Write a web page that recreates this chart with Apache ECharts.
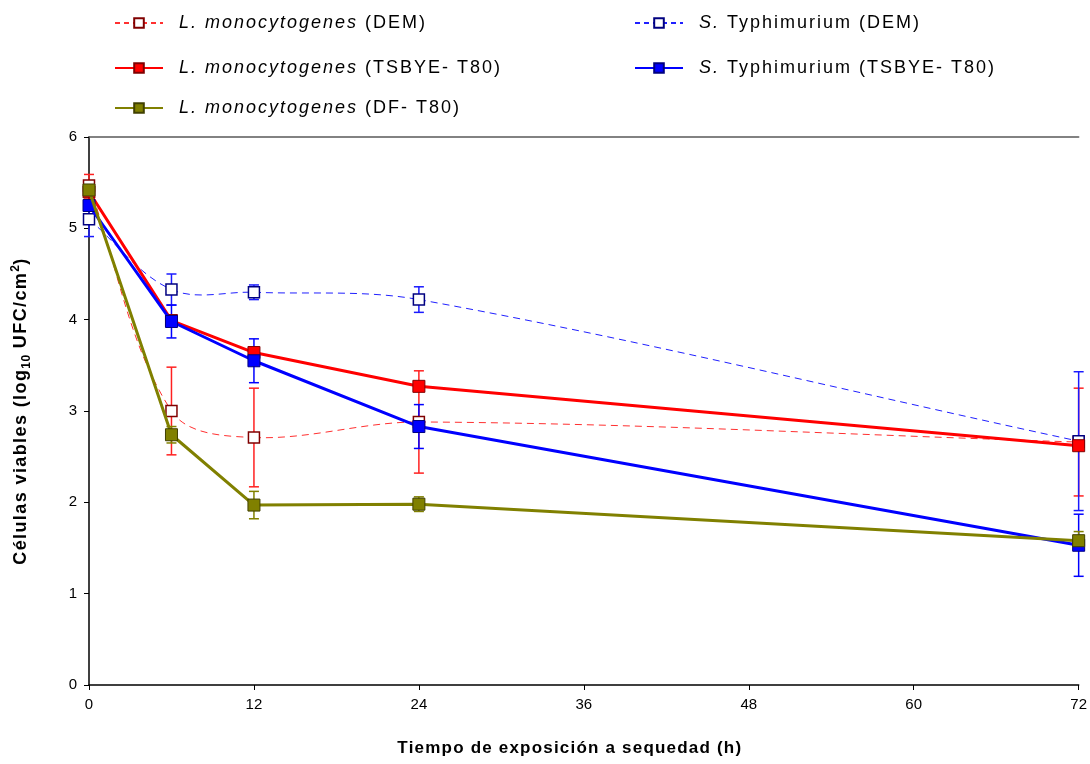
<!DOCTYPE html>
<html>
<head>
<meta charset="utf-8">
<script src="https://cdn.jsdelivr.net/npm/echarts@6/dist/echarts.min.js"></script>
<style>
  html, body { margin: 0; padding: 0; background: #fff; }
  #chart { width: 1090px; height: 764px; }
</style>
</head>
<body>
<div id="chart"></div>
<script>
// Exposure time (h)
const hours = [0, 6, 12, 24, 72];
const xTicks = [0, 12, 24, 36, 48, 60, 72];

// Viable cells, log10 CFU/cm2 (mean and error)
const lmDem = [5.47, 3.00, 2.71, 2.88, 2.66];
const lmDemErr = [0.12, 0.48, 0.54, 0.56, 0.59];
const stDem = [5.10, 4.33, 4.30, 4.22, 2.67];
const stDemErr = [0.19, 0.17, 0.08, 0.14, 0.76];
const lmTsb = [5.40, 3.99, 3.64, 3.27, 2.62];
const lmTsbErr = [0.08, 0.05, 0.05, 0.05, 0.05];
const stTsb = [5.25, 3.98, 3.55, 2.83, 1.53];
const stTsbErr = [0.05, 0.18, 0.24, 0.24, 0.34];
const lmDf = [5.42, 2.74, 1.97, 1.98, 1.58];
const lmDfErr = [0.05, 0.09, 0.15, 0.08, 0.10];

const names = {
  lmDem: 'L. monocytogenes (DEM)',
  stDem: 'S. Typhimurium (DEM)',
  lmTsb: 'L. monocytogenes (TSBYE- T80)',
  stTsb: 'S. Typhimurium (TSBYE- T80)',
  lmDf: 'L. monocytogenes (DF- T80)'
};
const legendLabels = {
  [names.lmDem]: '{i|L. monocytogenes} (DEM)',
  [names.stDem]: '{i|S.} Typhimurium (DEM)',
  [names.lmTsb]: '{i|L. monocytogenes} (TSBYE- T80)',
  [names.stTsb]: '{i|S.} Typhimurium (TSBYE- T80)',
  [names.lmDf]: '{i|L. monocytogenes} (DF- T80)'
};

const FONT = 'Liberation Sans, Arial, sans-serif';

// Wider tracking for legend entries and axis titles (keyed on font size/weight).
function trackingFor(font) {
  const m = /(\d+(?:\.\d+)?)px/.exec(font || '');
  const size = m ? parseFloat(m[1]) : 12;
  const bold = /bold|[6-9]00/.test(font || '');
  if (size === 18 && !bold) return 2;       // legend
  if (size === 17 && bold) return 1.2;      // x-axis title
  if (size === 18 && bold) return 1.4;      // y-axis title
  if (size === 12 && bold) return 0.4;      // y-axis title sub/superscripts
  return 0;
}
(function installTracking() {
  const measureCtx = document.createElement('canvas').getContext('2d');
  if (echarts.setPlatformAPI) {
    echarts.setPlatformAPI({
      measureText: function (text, font) {
        measureCtx.font = font || '12px sans-serif';
        const mt = measureCtx.measureText(text);
        const extra = trackingFor(measureCtx.font) * String(text).length;
        return {
          width: mt.width + extra,
          actualBoundingBoxAscent: mt.actualBoundingBoxAscent,
          actualBoundingBoxDescent: mt.actualBoundingBoxDescent,
          actualBoundingBoxLeft: mt.actualBoundingBoxLeft,
          actualBoundingBoxRight: mt.actualBoundingBoxRight + extra,
          fontBoundingBoxAscent: mt.fontBoundingBoxAscent,
          fontBoundingBoxDescent: mt.fontBoundingBoxDescent
        };
      }
    });
    const proto = CanvasRenderingContext2D.prototype;
    const origFill = proto.fillText;
    proto.fillText = function (text, x, y, maxW) {
      if ('letterSpacing' in this) this.letterSpacing = trackingFor(this.font) + 'px';
      return maxW === undefined ? origFill.call(this, text, x, y) : origFill.call(this, text, x, y, maxW);
    };
  }
})();

function pairs(ys) { return hours.map((h, i) => [h, ys[i]]); }
function errData(ys, es) { return hours.map((h, i) => [h, ys[i] - es[i], ys[i] + es[i]]); }

function errorSeries(ys, es, color) {
  return {
    type: 'custom',
    z: 2,
    silent: true,
    data: errData(ys, es),
    encode: { x: 0, y: [1, 2] },
    renderItem: function (params, api) {
      const lo = api.coord([api.value(0), api.value(1)]);
      const hi = api.coord([api.value(0), api.value(2)]);
      const w = 5;
      const st = { stroke: color, lineWidth: 1.5 };
      return {
        type: 'group',
        children: [
          { type: 'line', shape: { x1: lo[0], y1: lo[1], x2: hi[0], y2: hi[1] }, style: st },
          { type: 'line', shape: { x1: lo[0] - w, y1: lo[1], x2: lo[0] + w, y2: lo[1] }, style: st },
          { type: 'line', shape: { x1: hi[0] - w, y1: hi[1], x2: hi[0] + w, y2: hi[1] }, style: st }
        ]
      };
    }
  };
}

// Smoothed dashed connector: cubic Bezier segments whose tangents are
// scaled by neighbouring segment lengths.
function smoothCurveSeries(ys, color) {
  const n = hours.length;
  const clampIdx = j => Math.max(0, Math.min(n - 1, j));
  return {
    type: 'custom',
    z: 3,
    silent: true,
    data: pairs(ys),
    encode: { x: 0, y: 1 },
    renderItem: function (params, api) {
      const i = params.dataIndex;
      if (i >= n - 1) return null;
      const P = j => api.coord([hours[clampIdx(j)], ys[clampIdx(j)]]);
      const p0 = P(i - 1), p1 = P(i), p2 = P(i + 1), p3 = P(i + 2);
      const dist = (a, b) => Math.hypot(b[0] - a[0], b[1] - a[1]);
      const d12 = dist(p1, p2), d02 = dist(p0, p2), d13 = dist(p1, p3);
      const k1 = d02 > 0 ? d12 / d02 / 3 : 0;
      const k2 = d13 > 0 ? d12 / d13 / 3 : 0;
      return {
        type: 'bezierCurve',
        shape: {
          x1: p1[0], y1: p1[1], x2: p2[0], y2: p2[1],
          cpx1: p1[0] + (p2[0] - p0[0]) * k1, cpy1: p1[1] + (p2[1] - p0[1]) * k1,
          cpx2: p2[0] - (p3[0] - p1[0]) * k2, cpy2: p2[1] - (p3[1] - p1[1]) * k2
        },
        style: { stroke: color, lineWidth: 1, lineDash: [7, 5], fill: null }
      };
    }
  };
}

function lineSeries(name, ys, opt) {
  return {
    name: name,
    type: 'line',
    data: pairs(ys),
    symbol: 'rect',
    symbolSize: opt.size,
    z: opt.z,
    lineStyle: { color: opt.line, width: opt.width, type: opt.dash ? [5, 4] : 'solid', opacity: opt.dash ? 0 : 1 },
    itemStyle: { color: opt.fill, borderColor: opt.border, borderWidth: opt.bw },
    emphasis: { disabled: true }
  };
}

function legendAt(name, left, top) {
  return {
    data: [name],
    left: left,
    top: top,
    padding: 0,
    itemWidth: 48,
    itemHeight: 12,
    selectedMode: false,
    lineStyle: { opacity: 1 },
    formatter: n => legendLabels[n],
    textStyle: {
      fontFamily: FONT, fontSize: 18, color: '#000', padding: [0, 0, 0, 11],
      rich: { i: { fontFamily: FONT, fontSize: 18, fontStyle: 'italic', color: '#000' } }
    }
  };
}

const chart = echarts.init(document.getElementById('chart'), null, { renderer: 'canvas' });

chart.setOption({
  animation: false,
  backgroundColor: '#fff',
  grid: { left: 89, right: 10, top: 137, bottom: 79, containLabel: false },
  legend: [
    legendAt(names.lmDem, 114, 13),
    legendAt(names.stDem, 634, 13),
    legendAt(names.lmTsb, 114, 58),
    legendAt(names.stTsb, 634, 58),
    legendAt(names.lmDf, 114, 98)
  ],
  xAxis: [{
    type: 'value',
    min: 0, max: 72, interval: 12,
    name: 'Tiempo de exposición a sequedad (h)',
    nameLocation: 'middle',
    nameGap: 54,
    nameTextStyle: { fontFamily: FONT, fontSize: 17, fontWeight: 'bold', color: '#000', padding: [0, 28, 0, 0] },
    axisLine: { lineStyle: { color: '#000', width: 1.5 } },
    axisTick: { show: true, inside: false, length: 5, lineStyle: { color: '#000' } },
    axisLabel: {
      fontFamily: FONT, fontSize: 15, color: '#000', margin: 12,
      formatter: v => (xTicks.indexOf(v) >= 0 ? String(v) : '')
    },
    splitLine: { show: false }
  }, {
    type: 'value',
    position: 'top',
    min: 0, max: 72,
    axisLine: { show: true, lineStyle: { color: '#5a5a5a', width: 1.5 } },
    axisTick: { show: false },
    axisLabel: { show: false },
    splitLine: { show: false }
  }],
  yAxis: {
    type: 'value',
    min: 0, max: 6, interval: 1,
    name: '{b|Células viables (log}{s|10}{b| UFC/cm}{p|2}{b|)}',
    nameLocation: 'middle',
    nameGap: 56,
    nameRotate: 90,
    nameTextStyle: {
      color: '#000',
      padding: [0, 0, 0, 0],
      rich: {
        b: { fontFamily: FONT, fontSize: 18, fontWeight: 'bold', color: '#000', lineHeight: 24, verticalAlign: 'middle' },
        s: { fontFamily: FONT, fontSize: 12, fontWeight: 'bold', color: '#000', lineHeight: 24, verticalAlign: 'bottom' },
        p: { fontFamily: FONT, fontSize: 12, fontWeight: 'bold', color: '#000', lineHeight: 24, verticalAlign: 'top' }
      }
    },
    axisLine: { show: true, lineStyle: { color: '#000', width: 1.5 } },
    axisTick: { show: true, inside: false, length: 5, lineStyle: { color: '#000' } },
    axisLabel: { fontFamily: FONT, fontSize: 15, color: '#000', margin: 12 },
    splitLine: { show: false }
  },
  series: [
    errorSeries(lmDem, lmDemErr, '#ff2020'),
    errorSeries(stDem, stDemErr, '#1a1aff'),
    errorSeries(lmTsb, lmTsbErr, '#ff0000'),
    errorSeries(stTsb, stTsbErr, '#0000ff'),
    errorSeries(lmDf, lmDfErr, '#808000'),
    smoothCurveSeries(lmDem, '#ff3030'),
    smoothCurveSeries(stDem, '#2020ff'),
    lineSeries(names.lmDem, lmDem, { size: 11, z: 3, line: '#ff3030', width: 1, dash: true, fill: '#ffffff', border: '#800000', bw: 1.5 }),
    lineSeries(names.stDem, stDem, { size: 11, z: 3, line: '#2020ff', width: 1, dash: true, fill: '#ffffff', border: '#000080', bw: 1.5 }),
    lineSeries(names.lmTsb, lmTsb, { size: 12, z: 4, line: '#ff0000', width: 3, fill: '#ff0000', border: '#800000', bw: 1 }),
    lineSeries(names.stTsb, stTsb, { size: 12, z: 5, line: '#0000ff', width: 3, fill: '#0000ff', border: '#000080', bw: 1 }),
    lineSeries(names.lmDf, lmDf, { size: 12, z: 6, line: '#808000', width: 3, fill: '#808000', border: '#404000', bw: 1 })
  ]
});
</script>
</body>
</html>
